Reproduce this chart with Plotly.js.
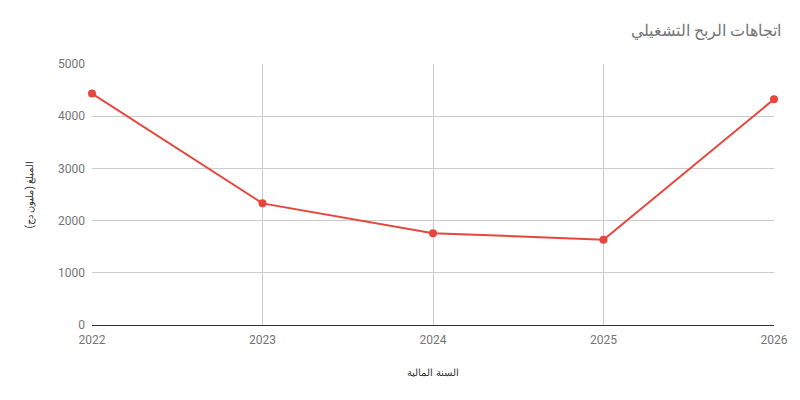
<!DOCTYPE html>
<html>
<head>
<meta charset="utf-8">
<script src="https://cdn.plot.ly/plotly-3.0.1.min.js"></script>
<style>
  html, body { margin: 0; padding: 0; background: #fff; }
  #chart { width: 800px; height: 400px; }
</style>
</head>
<body>
<div id="chart"></div>
<script>
// السنوات المالية والربح التشغيلي (مليون)
var years = [2022, 2023, 2024, 2025, 2026];
var profit = [4435, 2330, 1760, 1635, 4325];
var yTicks = [0, 1000, 2000, 3000, 4000, 5000];

var trace = {
  type: "scatter",
  mode: "lines+markers",
  x: years,
  y: profit,
  cliponaxis: false,
  line: { color: "#e8453c", width: 2 },
  marker: { color: "#e8453c", size: 8 },
  hoverinfo: "x+y"
};

var layout = {
  width: 800,
  height: 400,
  margin: { l: 92, r: 26, t: 64, b: 75 },
  paper_bgcolor: "#fff",
  plot_bgcolor: "#fff",
  font: { family: "Roboto, 'Noto Sans', sans-serif", color: "#757575", size: 12 },
  showlegend: false,
  title: {
    text: "اتجاهات الربح التشغيلي",
    font: { size: 16, color: "#757575" },
    x: 0.976,
    xanchor: "right",
    y: 0.925,
    yanchor: "middle"
  },
  xaxis: {
    range: [2022, 2026],
    tickvals: years,
    ticktext: years.map(String),
    showgrid: true,
    gridcolor: "#cccccc",
    zeroline: false,
    showline: true,
    linecolor: "#333333",
    linewidth: 1,
    ticks: "",
    ticklabelstandoff: 4,
    tickfont: { size: 12, color: "#757575" },
    title: { text: "السنة المالية", font: { size: 10, color: "#333333" }, standoff: 22 }
  },
  yaxis: {
    range: [0, 5000],
    tickvals: yTicks,
    showgrid: true,
    gridcolor: "#cccccc",
    zeroline: false,
    showline: false,
    ticks: "",
    ticklabelstandoff: 6,
    tickfont: { size: 12, color: "#757575" },
    title: { text: "المبلغ (مليون دج)", font: { size: 10, color: "#333333" }, standoff: 22 }
  }
};

Plotly.newPlot("chart", [trace], layout, { displayModeBar: false });
</script>
</body>
</html>
